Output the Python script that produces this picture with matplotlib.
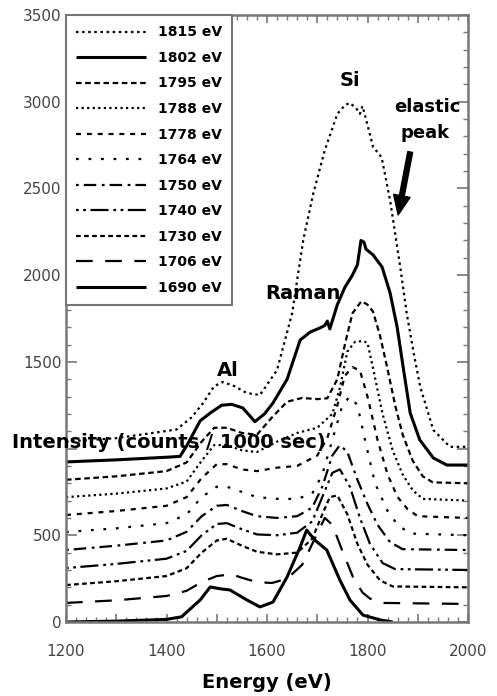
import matplotlib
matplotlib.use("Agg")
import matplotlib.pyplot as plt
from matplotlib.ticker import MultipleLocator, FuncFormatter

plt.rcParams['font.family'] = ['DejaVu Sans']
plt.rcParams['lines.scale_dashes'] = False

# excitation energies (legend order)
labels = ['1815 eV', '1802 eV', '1795 eV', '1788 eV', '1778 eV', '1764 eV',
          '1750 eV', '1740 eV', '1730 eV', '1706 eV', '1690 eV']

# spectra: energy (eV), intensity (counts / 1000 sec)
e_1815 = [1200, 1300, 1387, 1420, 1450, 1473, 1495, 1512, 1535, 1560, 1586, 1620, 1650, 1672,
          1692, 1715, 1740, 1755, 1765, 1778, 1785, 1790, 1797, 1811, 1828, 1845, 1865, 1878,
          1892, 1905, 1931, 1964, 2000]
i_1815 = [1040, 1060, 1096, 1110, 1180, 1263, 1360, 1384, 1360, 1320, 1309, 1453, 1780, 2200,
          2470, 2720, 2930, 2980, 2993, 2960, 2930, 2975, 2900, 2740, 2680, 2430, 2050, 1780,
          1550, 1355, 1107, 1010, 1010]

e_1802 = [1200, 1300, 1400, 1427, 1441, 1467, 1487, 1510, 1530, 1552, 1576, 1595, 1612, 1640,
          1666, 1686, 1705, 1715, 1720, 1725, 1740, 1755, 1770, 1780, 1787, 1793, 1797, 1811,
          1829, 1845, 1859, 1872, 1885, 1904, 1931, 1958, 2000]
i_1802 = [923, 935, 950, 955, 1020, 1160, 1205, 1250, 1255, 1234, 1155, 1200, 1263, 1400,
          1626, 1672, 1695, 1710, 1735, 1690, 1830, 1930, 2000, 2060, 2200, 2190, 2150, 2117,
          2047, 1897, 1700, 1450, 1205, 1050, 946, 905, 905]

e_1795 = [1200, 1300, 1400, 1440, 1470, 1495, 1520, 1550, 1580, 1610, 1640, 1670, 1700, 1720,
          1740, 1755, 1770, 1788, 1800, 1811, 1825, 1839, 1855, 1870, 1890, 1910, 1930, 2000]
i_1795 = [820, 840, 870, 920, 1040, 1120, 1120, 1090, 1080, 1180, 1270, 1292, 1285, 1290,
          1400, 1600, 1780, 1850, 1830, 1790, 1650, 1470, 1250, 1080, 930, 840, 805, 800]

e_1788 = [1200, 1300, 1400, 1440, 1470, 1495, 1520, 1550, 1580, 1620, 1660, 1700, 1730, 1745,
          1760, 1775, 1790, 1800, 1812, 1830, 1850, 1870, 1890, 1910, 2000]
i_1788 = [720, 740, 770, 810, 930, 1020, 1020, 990, 980, 1040, 1090, 1120, 1200, 1350,
          1560, 1615, 1620, 1610, 1450, 1200, 990, 850, 760, 710, 700]

e_1778 = [1200, 1300, 1400, 1440, 1470, 1500, 1520, 1550, 1580, 1620, 1660, 1700, 1720, 1740,
          1755, 1770, 1785, 1800, 1820, 1840, 1860, 1880, 1900, 2000]
i_1778 = [617, 640, 670, 720, 830, 910, 910, 880, 870, 890, 900, 960, 1060, 1250,
          1420, 1470, 1450, 1300, 1050, 850, 720, 650, 610, 600]

e_1764 = [1200, 1300, 1400, 1440, 1470, 1500, 1520, 1550, 1580, 1620, 1660, 1690, 1710, 1730,
          1750, 1765, 1780, 1795, 1815, 1840, 1860, 1885, 2000]
i_1764 = [519, 540, 570, 620, 720, 780, 780, 750, 720, 710, 710, 740, 850, 1050,
          1250, 1300, 1250, 1050, 800, 640, 560, 510, 500]

e_1750 = [1200, 1300, 1400, 1440, 1470, 1500, 1520, 1550, 1580, 1620, 1660, 1690, 1710, 1730,
          1745, 1760, 1780, 1800, 1820, 1845, 1870, 2000]
i_1750 = [415, 440, 470, 520, 610, 670, 675, 640, 610, 600, 610, 660, 780, 960,
          1020, 980, 820, 680, 560, 460, 420, 415]

e_1740 = [1200, 1300, 1400, 1440, 1470, 1500, 1520, 1550, 1580, 1620, 1660, 1690, 1710, 1730,
          1745, 1765, 1785, 1805, 1830, 1855, 2000]
i_1740 = [311, 335, 365, 410, 500, 565, 570, 535, 505, 500, 515, 580, 720, 860,
          880, 780, 600, 450, 340, 305, 300]

e_1730 = [1200, 1300, 1400, 1440, 1470, 1500, 1520, 1550, 1580, 1620, 1660, 1690, 1710, 1725,
          1740, 1760, 1780, 1800, 1825, 1850, 2000]
i_1730 = [213, 235, 265, 310, 400, 470, 480, 440, 405, 390, 400, 480, 620, 720,
          730, 620, 450, 330, 240, 205, 200]

e_1706 = [1200, 1300, 1400, 1440, 1470, 1500, 1530, 1550, 1580, 1610, 1640, 1670, 1695, 1715,
          1730, 1750, 1771, 1790, 1805, 1830, 2000]
i_1706 = [110, 125, 150, 180, 230, 265, 275, 255, 230, 225, 250, 330, 480, 600,
          560, 410, 260, 170, 135, 110, 104]

e_1690 = [1200, 1300, 1400, 1430, 1467, 1487, 1510, 1526, 1560, 1586, 1612, 1640, 1666, 1679,
          1695, 1719, 1745, 1765, 1791, 1825, 1850]
i_1690 = [0, 5, 15, 30, 127, 202, 190, 185, 127, 87, 115, 260, 433, 530,
          473, 415, 242, 127, 40, 12, 0]

energies = [e_1815, e_1802, e_1795, e_1788, e_1778, e_1764, e_1750, e_1740, e_1730, e_1706, e_1690]
intens = [i_1815, i_1802, i_1795, i_1788, i_1778, i_1764, i_1750, i_1740, i_1730, i_1706, i_1690]

# line styles (dash patterns in points)
styles = [
    dict(lw=1.6, dashes=(1.8, 2.6)),
    dict(lw=2.2, ls='-'),
    dict(lw=1.6, dashes=(4.0, 2.6)),
    dict(lw=1.6, dashes=(1.6, 2.4)),
    dict(lw=1.6, dashes=(3.6, 4.2)),
    dict(lw=1.6, dashes=(2.0, 7.0)),
    dict(lw=1.6, dashes=(2.0, 3.6, 9.0, 4.0)),
    dict(lw=1.6, dashes=(2.0, 3.2, 2.0, 3.2, 13.0, 3.5)),
    dict(lw=1.6, dashes=(3.4, 2.4)),
    dict(lw=1.6, dashes=(12.0, 9.0)),
    dict(lw=2.2, ls='-'),
]

fig = plt.figure(figsize=(4.97, 6.96), dpi=100)
ax = fig.add_axes([66 / 497, 1 - 622 / 696, 402 / 497, 607 / 696])

for e, y, lab, st in zip(energies, intens, labels, styles):
    ax.plot(e, y, color='black', label=lab, solid_capstyle='butt', dash_capstyle='butt', **st)

ax.set_xlim(1200, 2000)
ax.set_ylim(0, 3500)

ax.xaxis.set_major_locator(MultipleLocator(100))
ax.xaxis.set_minor_locator(MultipleLocator(20))
ax.xaxis.set_major_formatter(FuncFormatter(lambda v, p: f'{v:.0f}' if int(round(v)) % 200 == 0 else ''))
ax.yaxis.set_major_locator(MultipleLocator(500))
ax.yaxis.set_minor_locator(MultipleLocator(100))
# the 1000 label is covered by the intensity caption in the original
ax.yaxis.set_major_formatter(FuncFormatter(lambda v, p: '' if int(round(v)) == 1000 else f'{v:.0f}'))

ax.tick_params(which='both', direction='in', top=True, right=True, color='#777777',
               labelcolor='#444444', labelsize=11)
ax.tick_params(axis='x', which='major', length=6, width=1.2, pad=16)
ax.tick_params(axis='y', which='major', length=8, width=1.2, pad=3)
ax.tick_params(which='minor', length=3.5, width=1.0)
for sp in ax.spines.values():
    sp.set_color('#777777')
    sp.set_linewidth(1.8)

leg = ax.legend(loc='upper left', bbox_to_anchor=(0, 1), borderaxespad=0,
                prop=dict(weight='bold', size=10), handlelength=5.0, handletextpad=0.85,
                labelspacing=0.83, borderpad=0.75, fancybox=False, framealpha=1)
leg.get_frame().set_edgecolor('#777777')
leg.get_frame().set_linewidth(1.5)

ax.text(1765, 3125, 'Si', ha='center', va='center', fontsize=14, fontweight='bold')
ax.text(1920, 2970, 'elastic', ha='center', va='center', fontsize=13, fontweight='bold')
ax.text(1915, 2820, 'peak', ha='center', va='center', fontsize=13, fontweight='bold')
ax.text(1672, 1897, 'Raman', ha='center', va='center', fontsize=14, fontweight='bold')
ax.text(1522, 1453, 'Al', ha='center', va='center', fontsize=14, fontweight='bold')
ax.annotate('', xy=(1861, 2347), xytext=(1885, 2710),
            arrowprops=dict(facecolor='black', edgecolor='black', width=3.5,
                            headwidth=12, headlength=14, shrink=0))

fig.text(267 / 497, 1 - 683 / 696, 'Energy (eV)', ha='center', va='center',
         fontsize=14, fontweight='bold')
fig.text(12 / 497, 1 - 443 / 696, 'Intensity (counts / 1000 sec)', ha='left', va='center',
         fontsize=14, fontweight='bold')

fig.savefig('out.png', dpi=100)
